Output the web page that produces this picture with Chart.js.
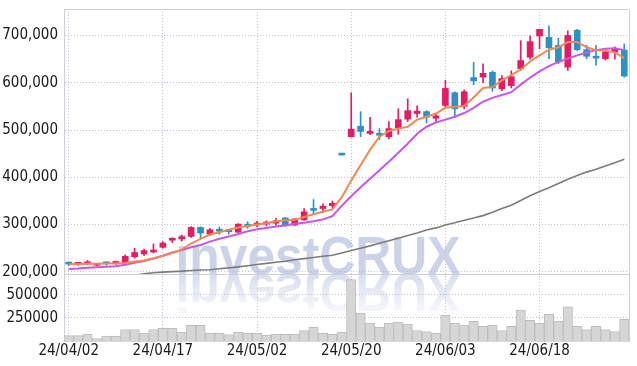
<!DOCTYPE html>
<html>
<head>
<meta charset="utf-8">
<script src="https://cdn.jsdelivr.net/npm/chart.js@4"></script>
<style>
  html, body { margin: 0; padding: 0; background: #fff; }
  #wrap { width: 637px; height: 366px; }
</style>
</head>
<body>
<div id="wrap"><canvas id="stockChart"></canvas></div>
<script>
// trading days
const dates = [
  '24/04/02','24/04/03','24/04/04','24/04/05','24/04/08','24/04/09','24/04/11','24/04/12','24/04/15','24/04/16',
  '24/04/17','24/04/18','24/04/19','24/04/22','24/04/23','24/04/24','24/04/25','24/04/26','24/04/29','24/04/30',
  '24/05/02','24/05/03','24/05/07','24/05/08','24/05/09','24/05/10','24/05/13','24/05/14','24/05/16','24/05/17',
  '24/05/20','24/05/21','24/05/22','24/05/23','24/05/24','24/05/27','24/05/28','24/05/29','24/05/30','24/05/31',
  '24/06/03','24/06/04','24/06/05','24/06/07','24/06/10','24/06/11','24/06/12','24/06/13','24/06/14','24/06/17',
  '24/06/18','24/06/19','24/06/20','24/06/21','24/06/24','24/06/25','24/06/26','24/06/27','24/06/28','24/07/01'
];

const open = [
  217500, 216000, 217000, 214000, 218000, 217000, 219000, 232000, 238000, 242000,
  252000, 267000, 270000, 275000, 294000, 280000, 289000, 287000, 284000, 301000,
  299000, 301000, 303000, 314000, 299000, 310000, 332000, 334000, 340000, 448000,
  486000, 508000, 493000, 492000, 486000, 505000, 523000, 535000, 539000, 525000,
  552000, 579000, 550000, 611000, 612000, 622000, 587000, 594000, 630000, 654000,
  699000, 696000, 679000, 633000, 711000, 670000, 654000, 651000, 665000, 669000
];
const high = [
  220000, 219500, 224000, 218000, 221000, 223000, 236000, 250000, 248000, 259000,
  264000, 272000, 278000, 296000, 295000, 292000, 295000, 290000, 302000, 306000,
  307000, 308000, 313000, 315000, 313000, 334000, 353000, 344000, 350000, 448000,
  579000, 539000, 527000, 503000, 518000, 545000, 566000, 551000, 541000, 533000,
  605000, 581000, 585000, 643000, 640000, 625000, 615000, 625000, 689000, 699000,
  713000, 720000, 694000, 710000, 713000, 679000, 679000, 668000, 676000, 682000
];
const low = [
  213000, 213500, 215000, 213000, 214000, 216000, 215000, 229000, 235000, 240000,
  250000, 262000, 265000, 273000, 271000, 277000, 279000, 280000, 283000, 292000,
  295000, 297000, 299000, 297000, 298000, 309000, 322000, 326000, 336000, 447000,
  485000, 486000, 490000, 480000, 481000, 491000, 518000, 527000, 515000, 517000,
  548000, 526000, 545000, 596000, 600000, 582000, 583000, 589000, 626000, 650000,
  672000, 651000, 640000, 626000, 668000, 651000, 637000, 648000, 650000, 612000
];
const close = [
  216500, 218000, 220000, 217000, 217000, 222000, 233000, 241000, 245000, 246000,
  261000, 269000, 273000, 294000, 282000, 289000, 286000, 285000, 301000, 296000,
  302000, 303000, 308000, 300000, 312000, 327000, 330000, 339000, 345000, 447000,
  502000, 497000, 497000, 489000, 503000, 522000, 541000, 540000, 527000, 530000,
  588000, 545000, 581000, 604000, 620000, 589000, 609000, 613000, 647000, 687000,
  713000, 674000, 644000, 700000, 670000, 656000, 652000, 665000, 671000, 614000
];
const volume = [
  59000, 59000, 74000, 26000, 52000, 52000, 125000, 125000, 85000, 125000,
  136000, 136000, 96000, 169000, 169000, 85000, 85000, 70000, 96000, 85000,
  85000, 63000, 74000, 74000, 74000, 114000, 147000, 85000, 74000, 96000,
  665000, 302000, 195000, 151000, 195000, 206000, 184000, 114000, 103000, 85000,
  280000, 195000, 173000, 213000, 158000, 169000, 114000, 158000, 335000, 224000,
  191000, 290000, 213000, 371000, 158000, 125000, 158000, 125000, 103000, 235000
];

// moving averages
const ma5 = [
  216000, 216500, 217000, 217000, 217500, 218000, 219000, 222000, 224000, 229000,
  234000, 240000, 247000, 260000, 270000, 279000, 284000, 289000, 294000, 297000,
  300000, 303000, 307000, 309000, 310000, 316000, 322000, 327000, 332000, 358000,
  393000, 426000, 458000, 486000, 498000, 503000, 507000, 522000, 528000, 535000,
  547000, 549000, 551000, 569000, 589000, 591000, 605000, 616000, 628000, 645000,
  658000, 670000, 675000, 686000, 686000, 675000, 669000, 668000, 664000, 652000
];
const ma20 = [
  206000, 207000, 208500, 210000, 211000, 212000, 215000, 219000, 223000, 228000,
  234000, 241000, 246000, 252000, 257000, 264000, 270000, 275000, 280000, 286000,
  290000, 293000, 296000, 298000, 302000, 304000, 307000, 311000, 318000, 340000,
  360000, 379000, 397000, 415000, 433000, 452000, 471000, 492000, 507000, 516000,
  522000, 528000, 536000, 547000, 560000, 568000, 574000, 580000, 596000, 611000,
  624000, 635000, 644000, 651000, 658000, 664000, 669000, 672000, 673000, 669000
];
const ma60 = [
  180000, 181500, 183000, 184500, 186000, 188000, 190000, 192500, 196000, 198000,
  199500, 200500, 201500, 203000, 204000, 204500, 206500, 208500, 210500, 213000,
  215500, 218000, 220500, 222500, 225500, 228000, 230500, 233000, 235000, 240000,
  245000, 250000, 255000, 260500, 266000, 271000, 277000, 282000, 288500, 293000,
  299000, 304000, 309000, 314000, 319000, 326000, 334000, 341000, 351000, 361000,
  370000, 378000, 387000, 396000, 404000, 411000, 417000, 424000, 431000, 438000
];

const priceTicks = [200000, 300000, 400000, 500000, 600000, 700000];
const volumeTicks = [250000, 500000];

const UP = '#e31c66';
const DOWN = '#2c91c4';
const candleColor = dates.map((d, i) => close[i] >= open[i] ? UP : DOWN);

const tickFont = { family: '"Liberation Sans Narrow", "DejaVu Sans Condensed", sans-serif', size: 15 };
const gridColor = '#bfc4d8';
const frameColor = '#cfcfd4';

// y axes: fixed width, no extra room reserved for end labels
function fitY(s) {
  s.width = 64;
  s.paddingTop = 0;
  s.paddingBottom = 0;
}

// keep each pane's marks inside its own pane
const paneClip = {
  id: 'paneClip',
  beforeDatasetDraw(chart, args) {
    const ys = chart.scales[args.meta.yAxisID];
    const { ctx, chartArea } = chart;
    ctx.save();
    ctx.beginPath();
    ctx.rect(chartArea.left, ys.top, chartArea.right - chartArea.left, ys.bottom - ys.top);
    ctx.clip();
  },
  afterDatasetDraw(chart) {
    chart.ctx.restore();
  }
};

const watermark = {
  id: 'watermark',
  beforeDatasetsDraw(chart) {
    const { ctx, chartArea, scales } = chart;
    const text = 'investCRUX';
    const base = scales.y.bottom;
    const targetW = 285;
    const cx = chartArea.left + (chartArea.right - chartArea.left) * 0.4495;
    ctx.save();
    ctx.font = 'bold 54px "Liberation Sans", Arial, sans-serif';
    const w = ctx.measureText(text).width;
    ctx.translate(cx - targetW / 2, base);
    ctx.scale(targetW / w, 1);
    ctx.textBaseline = 'alphabetic';
    ctx.fillStyle = 'rgba(170,182,218,0.6)';
    ctx.fillText(text, 0, 0);
    // reflection
    ctx.scale(1, -1);
    const g = ctx.createLinearGradient(0, 0, 0, -40);
    g.addColorStop(0, 'rgba(170,182,218,0.45)');
    g.addColorStop(1, 'rgba(170,182,218,0.08)');
    ctx.fillStyle = g;
    ctx.fillText(text, 0, 0);
    ctx.restore();
  }
};

const frame = {
  id: 'frame',
  afterDraw(chart) {
    const { ctx, chartArea, scales } = chart;
    ctx.save();
    ctx.strokeStyle = frameColor;
    ctx.lineWidth = 1;
    ctx.beginPath();
    ctx.moveTo(chartArea.left, chartArea.top + 0.5);
    ctx.lineTo(chartArea.right + 0.5, chartArea.top + 0.5);
    ctx.lineTo(chartArea.right + 0.5, chartArea.bottom);
    const sep = Math.round(scales.y.bottom) + 0.5;
    ctx.moveTo(chartArea.left, sep);
    ctx.lineTo(chartArea.right, sep);
    ctx.stroke();
    ctx.restore();
  }
};

new Chart(document.getElementById('stockChart'), {
  type: 'bar',
  data: {
    labels: dates,
    datasets: [
      {
        type: 'line', label: 'MA5', data: ma5, yAxisID: 'y', order: 0,
        borderColor: '#ef8a52', borderWidth: 2, pointRadius: 0, tension: 0
      },
      {
        type: 'line', label: 'MA20', data: ma20, yAxisID: 'y', order: 0,
        borderColor: '#c855ee', borderWidth: 2, pointRadius: 0, tension: 0
      },
      {
        type: 'line', label: 'MA60', data: ma60, yAxisID: 'y', order: 0,
        borderColor: '#7c7c7c', borderWidth: 1.6, pointRadius: 0, tension: 0
      },
      {
        label: 'Body', data: dates.map((d, i) => [open[i], close[i]]), yAxisID: 'y', order: 1,
        backgroundColor: candleColor, barThickness: 6, grouped: false, minBarLength: 2
      },
      {
        label: 'Wick', data: dates.map((d, i) => [low[i], high[i]]), yAxisID: 'y', order: 2,
        backgroundColor: candleColor, barThickness: 1, grouped: false
      },
      {
        label: 'Volume', data: volume, yAxisID: 'yv', order: 3,
        backgroundColor: '#d6d6d6', borderColor: '#bdbdbd', borderWidth: 1,
        categoryPercentage: 1, barPercentage: 1, grouped: false
      }
    ]
  },
  options: {
    responsive: true,
    maintainAspectRatio: false,
    animation: false,
    layout: { padding: { top: 9, right: 8, bottom: 0, left: 0 } },
    plugins: { legend: { display: false }, tooltip: { enabled: false } },
    scales: {
      x: {
        offset: true,
        afterFit: s => { s.height = 25; s.paddingLeft = 0; s.paddingRight = 0; },
        grid: {
          offset: false, drawTicks: false,
          color: c => c.index % 10 === 0 ? gridColor : 'rgba(0,0,0,0)'
        },
        border: { color: '#d8d8d8', dash: [1, 2] },
        ticks: {
          autoSkip: false, maxRotation: 0, padding: 1, color: '#1a1a1a', font: tickFont,
          callback: (v, i) => i % 10 === 0 ? dates[i] : ''
        }
      },
      y: {
        position: 'left', stack: 'panes', stackWeight: 263.5, weight: 2,
        min: 195300, max: 756000,
        afterFit: fitY,
        afterBuildTicks: s => { s.ticks = priceTicks.map(v => ({ value: v })); },
        grid: { drawTicks: false, color: gridColor },
        border: { color: frameColor, dash: [1, 2] },
        ticks: {
          padding: 6, color: '#1a1a1a', font: tickFont,
          callback: v => v.toLocaleString('en-US')
        }
      },
      yv: {
        position: 'left', stack: 'panes', stackWeight: 66.5, weight: 1,
        min: 0, max: 725000,
        afterFit: fitY,
        afterBuildTicks: s => { s.ticks = volumeTicks.map(v => ({ value: v })); },
        grid: { drawTicks: false, color: gridColor },
        border: { color: frameColor, dash: [1, 2] },
        ticks: {
          padding: 6, color: '#1a1a1a', font: tickFont,
          callback: v => String(v)
        }
      }
    }
  },
  plugins: [paneClip, watermark, frame]
});
</script>
</body>
</html>
